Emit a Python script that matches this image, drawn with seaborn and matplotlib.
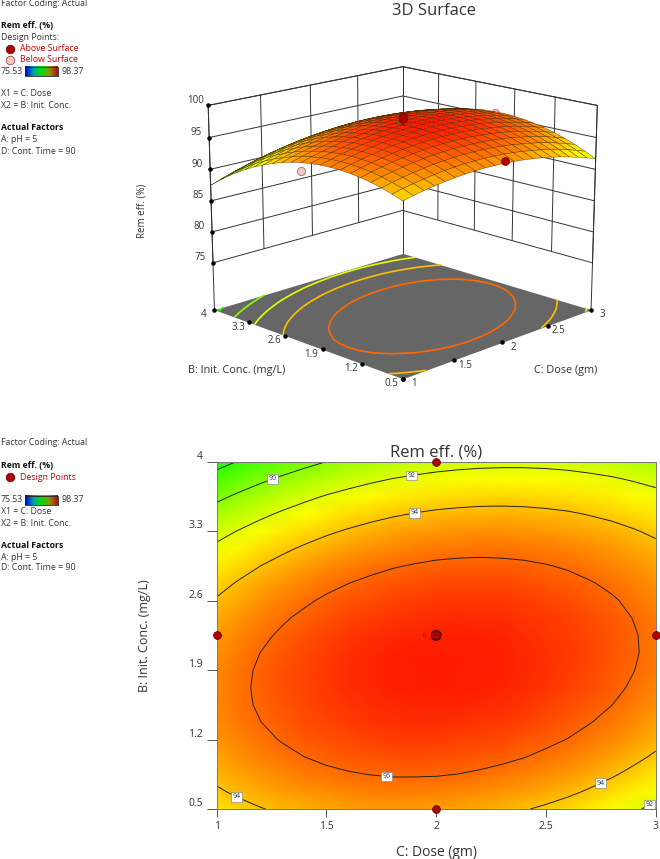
import numpy as np
import seaborn as sns
import pandas as pd
import matplotlib.pyplot as plt
from matplotlib.colors import LinearSegmentedColormap
from mpl_toolkits.mplot3d import proj3d

dose = [1.0, 1.1, 1.2, 1.3, 1.4, 1.5, 1.6, 1.7, 1.8, 1.9, 2.0, 2.1, 2.2, 2.3, 2.4, 2.5, 2.6, 2.7, 2.8, 2.9, 3.0]
conc = [0.5, 0.675, 0.85, 1.025, 1.2, 1.375, 1.55, 1.725, 1.9, 2.075, 2.25, 2.425, 2.6, 2.775, 2.95, 3.125, 3.3, 3.475, 3.65, 3.825, 4.0]

# one row per conc value
rem_eff = [
    [93.27, 93.63, 93.94, 94.20, 94.42, 94.60, 94.72, 94.81, 94.85, 94.83, 94.78, 94.67, 94.52, 94.32, 94.08, 93.80, 93.47, 93.08, 92.66, 92.18, 91.66],
    [93.84, 94.21, 94.54, 94.81, 95.04, 95.24, 95.37, 95.46, 95.52, 95.51, 95.47, 95.38, 95.24, 95.05, 94.83, 94.55, 94.24, 93.86, 93.45, 92.99, 92.48],
    [94.32, 94.70, 95.04, 95.32, 95.57, 95.77, 95.92, 96.02, 96.09, 96.09, 96.07, 95.99, 95.86, 95.69, 95.47, 95.21, 94.90, 94.54, 94.14, 93.69, 93.19],
    [94.70, 95.10, 95.44, 95.74, 96.00, 96.22, 96.37, 96.49, 96.57, 96.59, 96.57, 96.50, 96.39, 96.23, 96.03, 95.77, 95.48, 95.13, 94.75, 94.30, 93.82],
    [94.99, 95.40, 95.76, 96.07, 96.34, 96.57, 96.74, 96.87, 96.96, 96.99, 96.99, 96.93, 96.83, 96.68, 96.49, 96.25, 95.97, 95.63, 95.26, 94.83, 94.36],
    [95.20, 95.62, 95.99, 96.31, 96.60, 96.84, 97.02, 97.16, 97.26, 97.30, 97.32, 97.27, 97.18, 97.04, 96.86, 96.63, 96.37, 96.04, 95.68, 95.26, 94.80],
    [95.31, 95.75, 96.13, 96.46, 96.76, 97.01, 97.21, 97.36, 97.47, 97.53, 97.55, 97.51, 97.44, 97.31, 97.15, 96.93, 96.67, 96.36, 96.01, 95.60, 95.16],
    [95.34, 95.78, 96.18, 96.52, 96.83, 97.10, 97.30, 97.47, 97.59, 97.66, 97.70, 97.67, 97.61, 97.49, 97.34, 97.13, 96.89, 96.59, 96.25, 95.86, 95.42],
    [95.27, 95.73, 96.14, 96.50, 96.81, 97.09, 97.31, 97.49, 97.62, 97.70, 97.75, 97.74, 97.69, 97.58, 97.44, 97.25, 97.02, 96.73, 96.40, 96.02, 95.60],
    [95.12, 95.59, 96.01, 96.38, 96.71, 97.00, 97.23, 97.42, 97.57, 97.66, 97.72, 97.72, 97.68, 97.59, 97.46, 97.28, 97.06, 96.78, 96.47, 96.10, 95.69],
    [94.87, 95.35, 95.78, 96.17, 96.51, 96.81, 97.05, 97.25, 97.42, 97.52, 97.59, 97.60, 97.58, 97.50, 97.38, 97.21, 97.00, 96.74, 96.44, 96.08, 95.68],
    [94.53, 95.03, 95.47, 95.87, 96.22, 96.54, 96.79, 97.00, 97.18, 97.29, 97.38, 97.40, 97.38, 97.32, 97.21, 97.06, 96.86, 96.61, 96.32, 95.97, 95.59],
    [94.11, 94.62, 95.07, 95.48, 95.84, 96.17, 96.44, 96.66, 96.85, 96.98, 97.07, 97.11, 97.10, 97.05, 96.96, 96.81, 96.63, 96.39, 96.11, 95.78, 95.40],
    [93.59, 94.11, 94.58, 95.00, 95.38, 95.72, 95.99, 96.23, 96.43, 96.57, 96.68, 96.72, 96.73, 96.69, 96.61, 96.48, 96.31, 96.07, 95.81, 95.49, 95.13],
    [92.99, 93.52, 94.00, 94.43, 94.82, 95.17, 95.46, 95.71, 95.92, 96.07, 96.19, 96.25, 96.27, 96.24, 96.17, 96.05, 95.89, 95.67, 95.42, 95.12, 94.77],
    [92.29, 92.83, 93.33, 93.77, 94.17, 94.53, 94.84, 95.10, 95.32, 95.48, 95.62, 95.69, 95.72, 95.70, 95.65, 95.54, 95.39, 95.18, 94.95, 94.65, 94.31],
    [91.51, 92.06, 92.57, 93.02, 93.44, 93.81, 94.12, 94.40, 94.63, 94.81, 94.95, 95.04, 95.08, 95.08, 95.03, 94.93, 94.80, 94.60, 94.38, 94.09, 93.77],
    [90.63, 91.20, 91.71, 92.18, 92.61, 92.99, 93.32, 93.61, 93.85, 94.04, 94.20, 94.29, 94.35, 94.36, 94.32, 94.24, 94.12, 93.93, 93.72, 93.45, 93.13],
    [89.67, 90.24, 90.77, 91.25, 91.69, 92.09, 92.43, 92.73, 92.99, 93.18, 93.35, 93.46, 93.53, 93.55, 93.53, 93.46, 93.34, 93.17, 92.97, 92.71, 92.41],
    [88.61, 89.20, 89.74, 90.23, 90.68, 91.09, 91.44, 91.76, 92.03, 92.24, 92.42, 92.54, 92.62, 92.65, 92.64, 92.58, 92.48, 92.32, 92.13, 91.88, 91.60],
    [87.46, 88.07, 88.62, 89.12, 89.59, 90.01, 90.37, 90.69, 90.98, 91.20, 91.39, 91.53, 91.62, 91.66, 91.66, 91.62, 91.53, 91.38, 91.21, 90.97, 90.69],
]

levels = [88, 90, 92, 94, 96]
dose_ticks = [1, 1.5, 2, 2.5, 3]
dose_labels = ['1', '1.5', '2', '2.5', '3']
conc_ticks = [0.5, 1.2, 1.9, 2.6, 3.3, 4]
conc_labels = ['0.5', '1.2', '1.9', '2.6', '3.3', '4']
z_ticks = [75, 80, 85, 90, 95, 100]

# design points
pt_dose = [1, 2, 3, 2, 2]
pt_conc = [2.25, 4, 2.25, 0.5, 2.25]

above_dose = [2, 2, 2]
above_conc = [2.25, 2.25, 0.5]
above_rem = [98.2, 97.9, 95.1]
below_dose = [1, 3]
below_conc = [2.25, 2.25]
below_rem = [93.6, 95.4]

sns.set_theme(style='white')
plt.rcParams['font.family'] = ['Open Sans', 'DejaVu Sans']

rainbow = LinearSegmentedColormap.from_list('de', ['#0000ff', '#00ffff', '#00ff00', '#ffff00', '#ff0000'])
vmin, vmax = 75.53, 98.37
txt = '#333333'
dark_red = '#b00000'
pink = '#f7c6c6'

X, Y = np.meshgrid(dose, conc)
Z = np.array(rem_eff)

fig = plt.figure(figsize=(6.6, 8.59), dpi=100)

# overlay in pixel coords for the side notes
ov = fig.add_axes([0, 0, 1, 1], zorder=5)
ov.patch.set_alpha(0)
ov.axis('off')

def note(x, y, s, color=txt, bold=False):
    ov.text(x, y, s, fontsize=6.3, color=color, va='center', ha='left',
            fontweight='bold' if bold else 'normal')

def colorkey(y):
    note(1, y, '75.53')
    note(62, y, '98.37')
    grad = LinearSegmentedColormap.from_list('key', ['#0000c8', '#00a0a8', '#00e000', '#909000', '#b01010'])
    ov.imshow(np.linspace(0, 1, 64).reshape(1, -1), cmap=grad, aspect='auto',
              extent=[25, 58, y + 5, y - 4.5])
    ov.plot([25, 58, 58, 25, 25], [y - 4.5, y - 4.5, y + 5, y + 5, y - 4.5], color='#222222', lw=0.6)

note(1, 3, 'Factor Coding: Actual')
note(1, 26, 'Rem eff. (%)', color='#111111', bold=True)
note(1, 37, 'Design Points:')
note(20, 48.5, 'Above Surface', color='#c00000')
note(20, 60, 'Below Surface', color='#c00000')
sns.scatterplot(x=[10], y=[48.5], ax=ov, s=38, color=dark_red, edgecolor='#600000', linewidth=0.5)
sns.scatterplot(x=[10], y=[60], ax=ov, s=38, color=pink, edgecolor='#803030', linewidth=0.5)
colorkey(71)
note(1, 94, 'X1 = C: Dose')
note(1, 106, 'X2 = B: Init. Conc.')
note(1, 128, 'Actual Factors', color='#111111', bold=True)
note(1, 140, 'A: pH = 5')
note(1, 151, 'D: Cont. Time = 90')

note(1, 442.5, 'Factor Coding: Actual')
note(1, 465, 'Rem eff. (%)', color='#111111', bold=True)
note(20, 477, 'Design Points', color='#c00000')
sns.scatterplot(x=[10], y=[477], ax=ov, s=38, color=dark_red, edgecolor='#600000', linewidth=0.5)
colorkey(500)
note(1, 511, 'X1 = C: Dose')
note(1, 523, 'X2 = B: Init. Conc.')
note(1, 545.5, 'Actual Factors', color='#111111', bold=True)
note(1, 557, 'A: pH = 5')
note(1, 568, 'D: Cont. Time = 90')

ov.text(434, 11, '3D Surface', fontsize=12, color=txt, ha='center', va='center')
ov.text(142, 211, 'Rem eff. (%)', fontsize=7, color=txt, rotation=90, ha='center', va='center')
ov.text(237, 370, 'B: Init. Conc. (mg/L)', fontsize=7.8, color=txt, ha='center', va='center')
ov.text(566, 370, 'C: Dose (gm)', fontsize=7.8, color=txt, ha='center', va='center')

ov.set_xlim(0, 660)
ov.set_ylim(859, 0)

# 3D surface
floor = 67.3
top = 100
side = 425
ax3 = fig.add_axes([(397 - side / 2) / 660, 1 - (215 + side / 2) / 859, side / 660, side / 859],
                   projection='3d', computed_zorder=False)
ax3.set_xlim(1, 3)
ax3.set_ylim(0.5, 4)
ax3.set_zlim(floor, top)
ax3.view_init(elev=16, azim=-135)
ax3.set_proj_type('persp', focal_length=0.78)
ax3.set_box_aspect((1, 1, 0.785), zoom=1.0)
ax3.set_axis_off()
ax3.patch.set_alpha(0)

line = dict(color='#333333', lw=0.7, zorder=1)
for z in z_ticks:
    ax3.plot([1, 3], [4, 4], [z, z], **line)
    ax3.plot([3, 3], [0.5, 4], [z, z], **line)
for c in dose_ticks:
    ax3.plot([c, c], [4, 4], [75, top], **line)
for b in conc_ticks:
    ax3.plot([3, 3], [b, b], [75, top], **line)
ax3.plot([1, 1], [4, 4], [floor, top], **line)
ax3.plot([3, 3], [4, 4], [floor, top], **line)
ax3.plot([3, 3], [0.5, 0.5], [floor, top], **line)
ax3.plot([1, 3], [4, 4], [top, top], **line)
ax3.plot([3, 3], [0.5, 4], [top, top], **line)

ax3.plot_surface(np.array([[1, 3], [1, 3]]), np.array([[0.5, 0.5], [4, 4]]), np.full((2, 2), floor),
                 color='#666666', shade=False, linewidth=0, zorder=2)
ax3.contour(X, Y, Z, levels=levels, zdir='z', offset=floor, cmap=rainbow, vmin=vmin, vmax=vmax,
            linewidths=1.2, zorder=3)
ax3.scatter(below_dose, below_conc, below_rem, s=34, color=pink, edgecolor='#803030', linewidth=0.4,
            depthshade=False, zorder=4)
ax3.plot_surface(X, Y, Z, cmap=rainbow, vmin=vmin, vmax=vmax, rstride=1, cstride=1,
                 edgecolor='#3a2200', linewidth=0.25, antialiased=True, shade=False, zorder=5)
ax3.scatter(above_dose, above_conc, above_rem, s=34, color=dark_red, edgecolor='#600000', linewidth=0.4,
            depthshade=False, zorder=6)

M = ax3.get_proj()

def tick3d(x, y, z, s, dx, dy):
    px, py, _ = proj3d.proj_transform(x, y, z, M)
    ax3.scatter([x], [y], [z], s=5, color='black', depthshade=False, zorder=7)
    ax3.annotate(s, (px, py), xytext=(dx, dy), textcoords='offset pixels', fontsize=7, color=txt,
                 ha='center', va='center', annotation_clip=False)

for c, lab in zip(dose_ticks, dose_labels):
    tick3d(c, 0.5, floor, lab, 11, -5)
for b, lab in zip(conc_ticks, conc_labels):
    tick3d(1, b, floor, lab, -11, -5)
for z in z_ticks:
    tick3d(1, 4, z, str(z), -13, 5)

# contour map
ax2 = fig.add_axes([216.7 / 660, 1 - 809 / 859, 439 / 660, 347.3 / 859])
ax2.pcolormesh(X, Y, Z, shading='gouraud', cmap=rainbow, vmin=vmin, vmax=vmax)
cs = ax2.contour(X, Y, Z, levels=levels, colors='#222222', linewidths=0.7)
labs = ax2.clabel(cs, fmt='%d', fontsize=5, inline=True, inline_spacing=1,
                  manual=[(1.25, 3.86), (1.884, 3.906), (1.90, 3.526), (1.775, 0.873),
                          (2.74, 0.80), (1.10, 0.668), (2.964, 0.58)])
for t in labs:
    t.set_rotation(0)
    t.set_bbox(dict(facecolor='white', edgecolor='#777777', linewidth=0.4, pad=1))
    t.set_color('#333333')

df = pd.DataFrame({'dose': pt_dose, 'conc': pt_conc})
sns.scatterplot(data=df, x='dose', y='conc', ax=ax2, s=32, color=dark_red, edgecolor='#500000',
                linewidth=0.5, clip_on=False, zorder=6)
ax2.scatter([2], [2.25], s=52, facecolor='none', edgecolor='#300000', linewidth=0.7, zorder=7)
ax2.text(1.955, 2.25, '6', fontsize=4, color='#333333', ha='right', va='center')

ax2.set_xlim(1, 3)
ax2.set_ylim(0.5, 4)
ax2.set_xticks(dose_ticks, dose_labels)
ax2.set_yticks(conc_ticks, conc_labels)
ax2.tick_params(axis='x', labelsize=7.5, labelcolor=txt, color='#555555', length=5.8, width=0.7,
                bottom=True, pad=3)
ax2.tick_params(axis='y', labelsize=7.5, labelcolor=txt, color='#555555', length=7, width=0.7,
                left=True, pad=3)
for t in ax2.get_yticklabels():
    t.set_va('bottom')
for s in ax2.spines.values():
    s.set_color('#777777')
    s.set_linewidth(0.7)
ax2.set_xlabel('C: Dose (gm)', fontsize=10, color=txt, labelpad=9)
ax2.set_ylabel('B: Init. Conc. (mg/L)', fontsize=9, color=txt, labelpad=27)
ax2.set_title('Rem eff. (%)', fontsize=12, color=txt, pad=4)

fig.savefig('out.png', dpi=100)
